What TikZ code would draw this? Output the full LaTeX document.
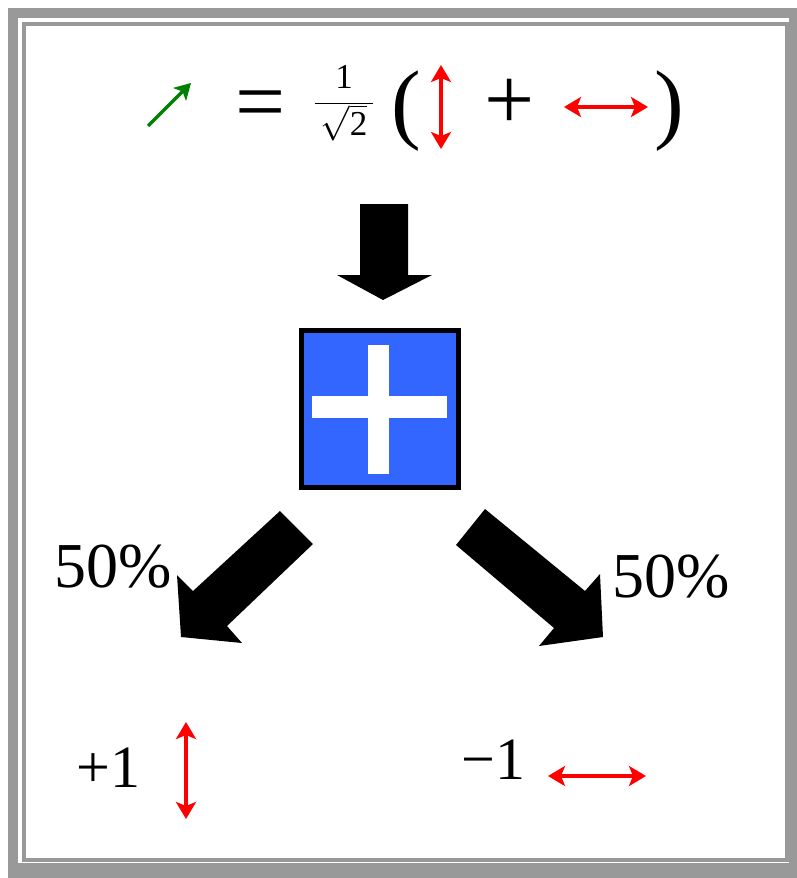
\RequirePackage{fix-cm}
\documentclass[tikz,border=0pt]{standalone}
\usepackage{fontspec}
\setmainfont{Liberation Serif}
\usetikzlibrary{arrows.meta}
\definecolor{framegray}{HTML}{999999}
\definecolor{gateblue}{HTML}{3366FF}
\definecolor{polgreen}{HTML}{008000}
\tikzset{
    pol arrow/.style = {draw, red, line width=3.5pt, {Stealth[length=17pt,width=20pt,inset=4pt]}-{Stealth[length=17pt,width=20pt,inset=4pt]}},
    diag arrow/.style = {draw, polgreen, line width=3.5pt, -{Stealth[length=16pt,width=18pt,inset=4pt]}},
    big sym/.style = {inner sep=0pt, font=\fontsize{89}{89}\selectfont},
    pct/.style = {inner sep=0pt, anchor=base west, font=\fontsize{64}{64}\selectfont},
    outcome/.style = {inner sep=0pt, anchor=base west, font=\fontsize{60}{60}\selectfont},
    block arrow/.style = {fill=black},
}

\begin{document}
\begin{tikzpicture}[x=1pt, y=-1pt]
                \useasboundingbox (0,0) rectangle (796,878);
                \fill[framegray] (8,8) rectangle (800,882);
                \fill[white] (18,18) rectangle (789,862.5);
                \draw[framegray, line width=4pt] (24.3,24.3) rectangle (786.5,859.5);

                \coordinate (diag tail) at (148,126);
                \coordinate (diag head) at (191,83);
                \node[big sym] (eq) at (261,111.5) {=};
                \node[inner sep=0pt, font=\fontsize{35}{35}\selectfont] (norm) at (344,103) {$\displaystyle\frac{\mbox{1}}{\,\sqrt{\mbox{2}}\,}$};
                \node[big sym] (lpar) at (406.5,111) {(};
                \coordinate (v top) at (441,65);
                \coordinate (v bot) at (441,149);
                \node[big sym] (plus) at (509.5,104) {+};
                \coordinate (h left) at (564,107);
                \coordinate (h right) at (648,107);
                \node[big sym] (rpar) at (669,111) {)};

                \node[draw=black, line width=5pt, fill=gateblue, minimum size=157pt, inner sep=0pt] (gate) at (380,409) {};

                \node[pct] (p left) at (54,587) {50\%};
                \node[pct] (p right) at (612,597) {50\%};

                \node[outcome] (plus one) at (76,787) {+1};
                \coordinate (up top) at (186,722);
                \coordinate (up bot) at (186,819);
                \node[outcome] (minus one) at (461,779) {−1};
                \coordinate (side left) at (548,776);
                \coordinate (side right) at (646,776);

                \draw[diag arrow] (diag tail) -- (diag head);
                \draw[pol arrow] (v top) -- (v bot);
                \draw[pol arrow] (h left) -- (h right);
                \draw[pol arrow] (up top) -- (up bot);
                \draw[pol arrow] (side left) -- (side right);

                \fill[white] (312,396) rectangle (447,418);
                \fill[white] (368,345) rectangle (389,474);

                \fill[block arrow] (360,204) -- (408,204) -- (408,275) -- (432,275) -- (383,300) -- (337,275) -- (360,275) -- cycle;
                \fill[block arrow] (280,511) -- (313,544) -- (227,626) -- (242,643) -- (181,637) -- (177,575) -- (193,591) -- cycle;
                \fill[block arrow] (485,509) -- (456,545) -- (554,628) -- (539,646) -- (603,637) -- (600,574) -- (585,591) -- cycle;
\end{tikzpicture}
\end{document}
